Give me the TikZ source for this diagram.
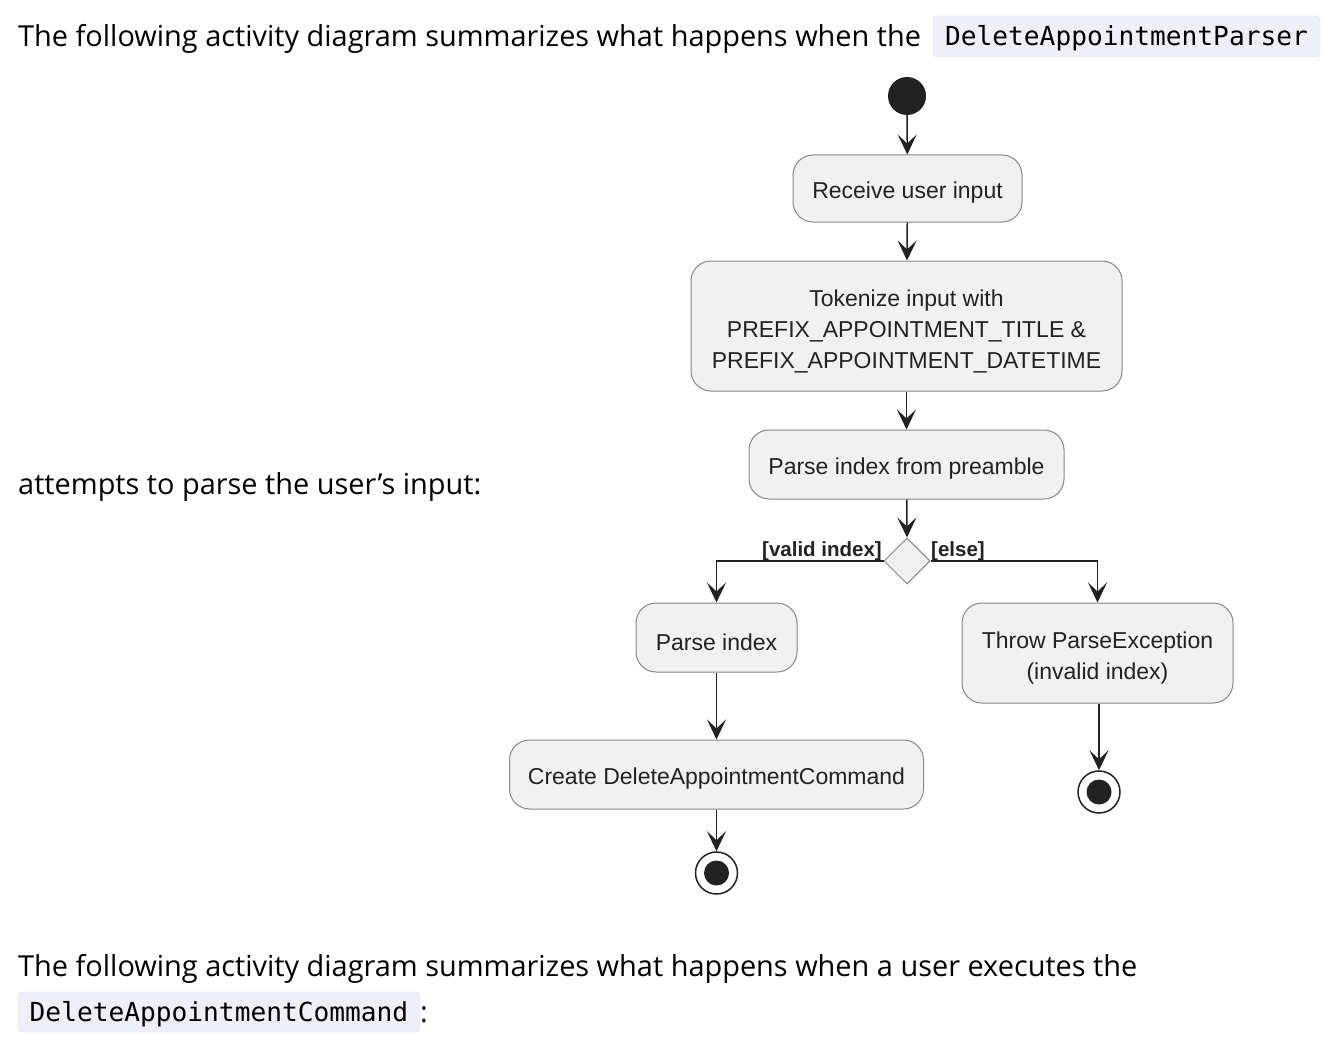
\documentclass[tikz,border=0pt]{standalone}
\usepackage{fontspec}
\setmainfont{Open Sans}
\newfontfamily\diag{Liberation Sans}
\setmonofont{DejaVu Sans Mono}
\usetikzlibrary{arrows.meta,shapes.geometric}
\definecolor{boxfill}{HTML}{F1F1F1}
\definecolor{boxline}{HTML}{888888}
\definecolor{dark}{HTML}{222222}
\definecolor{codebg}{HTML}{EFEFFA}
\definecolor{codeline}{HTML}{E2E2EE}
\newcommand\lowtext{\rule{0pt}{27pt}}
\tikzset{
  act/.style={draw=boxline, line width=1pt, fill=boxfill, rounded corners=20pt, align=center, inner sep=0pt,
    font=\diag\fontsize{23}{31}\selectfont, text=dark, execute at begin node={\rule{0pt}{25.5pt}}},
  flow/.style={draw=dark, line width=1.5pt, -{Stealth[length=20pt,width=19pt,inset=9pt]}},
  body/.style={font=\fontsize{28.9}{34}\selectfont, text=black, inner sep=0pt, anchor=base west},
  code/.style={font=\ttfamily\fontsize{26.2}{30}\selectfont, fill=codebg, draw=codeline, rounded corners=4pt, inner sep=0pt, text=black, text height=25pt, text depth=6pt},
  guard/.style={font=\diag\bfseries\fontsize{20.5}{22}\selectfont, text=dark, inner sep=0pt}
}
\begin{document}
\begin{tikzpicture}[x=1pt,y=-1pt]
\useasboundingbox[fill=white] (0,0) rectangle (1330,1051);

% surrounding text
\node[body] (t1) at (18,47) {The following activity diagram summarizes what happens when the};
\node[code, minimum width=387pt, minimum height=41pt] (c1) at (1126.5,36.5) {DeleteAppointmentParser};
\node[body] (t2) at (18,494) {attempts to parse the user’s input:};
\node[body] (t3) at (18,976) {The following activity diagram summarizes what happens when a user executes the};
\node[code, minimum width=402pt, minimum height=40pt] (c2) at (219,1012) {DeleteAppointmentCommand};
\node[body] (colon) at (420,1022) {:};

% diagram
\node[circle, fill=dark, minimum size=38pt, inner sep=0pt] (start) at (907,96) {};
\node[act, minimum width=229pt, minimum height=67pt] (b1) at (907.5,188.5) {Receive user input};
\node[act, minimum width=431pt, minimum height=130pt] (b2) at (906.5,326) {\lowtext Tokenize input with\\PREFIX\_APPOINTMENT\_TITLE \&\\PREFIX\_APPOINTMENT\_DATETIME};
\node[act, minimum width=315pt, minimum height=69pt] (b3) at (906.5,464.5) {Parse index from preamble};
\node[diamond, draw=boxline, line width=1pt, fill=boxfill, minimum width=46pt, minimum height=46pt, inner sep=0pt] (dia) at (907,561) {};
\node[act, minimum width=161pt, minimum height=69pt] (b4) at (716.5,637.5) {Parse index};
\node[act, minimum width=271pt, minimum height=100pt] (b5) at (1097.5,653) {\lowtext Throw ParseException\\(invalid index)};
\node[act, minimum width=414pt, minimum height=69pt] (b6) at (716.5,774.5) {Create DeleteAppointmentCommand};
\node[circle, draw=dark, line width=1.5pt, fill=white, minimum size=42pt, inner sep=0pt] (end1) at (716.5,873) {};
\node[circle, fill=dark, minimum size=25pt, inner sep=0pt] (end1i) at (end1.center) {};
\node[circle, draw=dark, line width=1.5pt, fill=white, minimum size=42pt, inner sep=0pt] (end2) at (1099,792) {};
\node[circle, fill=dark, minimum size=25pt, inner sep=0pt] (end2i) at (end2.center) {};

\node[guard, anchor=base east] (gl) at (882,556) {[valid index]};
\node[guard, anchor=base west] (gr) at (931,556) {[else]};

\draw[flow] (start) -- (b1);
\draw[flow] (b1) -- (b2);
\draw[flow] (b2) -- (b3);
\draw[flow] (b3) -- (dia.north);
\draw[flow] (dia.west) -| (b4.north);
\draw[flow] (dia.east) -| (b5.north);
\draw[flow] (b4) -- (b6);
\draw[flow] (b6.south -| end1) -- (end1);
\draw[flow] (b5.south -| end2) -- (end2);
\end{tikzpicture}
\end{document}
